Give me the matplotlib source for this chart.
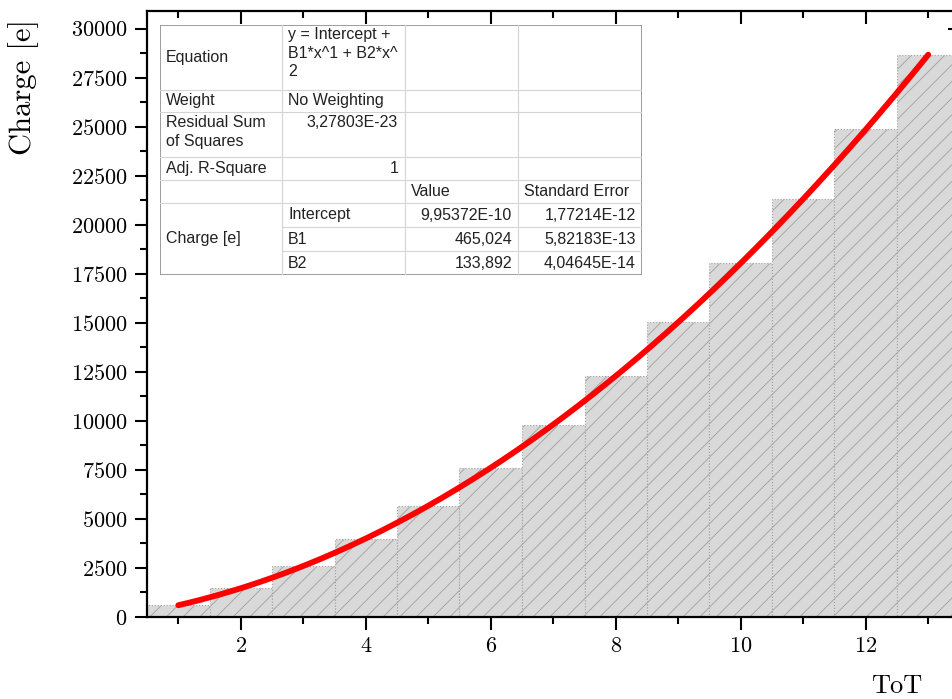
import matplotlib
matplotlib.use("Agg")
import matplotlib.pyplot as plt
import numpy as np

# ToT bins and the charge
tot = [1, 2, 3, 4, 5, 6, 7, 8, 9, 10, 11, 12, 13]
charge = [600, 1465, 2600, 4000, 5670, 7610, 9815, 12290, 15030, 18040, 21320, 24860, 28670]

# fit parameters as printed in the table
intercept = 9.95372e-10
b1 = 465.024
b2 = 133.892

# table contents
table_rows = [
    ["Equation", "y = Intercept +\nB1*x^1 + B2*x^\n2", "", ""],
    ["Weight", "No Weighting", "", ""],
    ["Residual Sum\nof Squares", "3,27803E-23", "", ""],
    ["Adj. R-Square", "1", "", ""],
    ["", "", "Value", "Standard Error"],
    ["Charge [e]", "Intercept", "9,95372E-10", "1,77214E-12"],
    ["", "B1", "465,024", "5,82183E-13"],
    ["", "B2", "133,892", "4,04645E-14"],
]

plt.rcParams["font.family"] = "cmr10"
plt.rcParams["axes.formatter.use_mathtext"] = True
plt.rcParams["hatch.linewidth"] = 0.6

fig = plt.figure(figsize=(9.53, 6.99), dpi=100)
W, H = 953, 699
ax_l, ax_r, ax_t, ax_b = 147, 959.5, 11, 617
ax = fig.add_axes([ax_l / W, 1 - ax_b / H, (ax_r - ax_l) / W, (ax_b - ax_t) / H])

# bars: gray fill, diagonal hatch, dotted edges
ax.bar(tot, charge, width=1.0, color="#d9d9d9", edgecolor="#a0a0a0",
       hatch="//", linestyle=":", linewidth=0.8, zorder=1)

# fit curve
xf = np.linspace(tot[0], tot[-1], 200)
yf = intercept + b1 * xf + b2 * xf ** 2
ax.plot(xf, yf, color="#ff0000", linewidth=4.2, solid_capstyle="round", zorder=3)

ax.set_xlim(0.5, 13.5)
ax.set_ylim(0, 30900)
ax.set_xticks(range(2, 14, 2))
ax.set_xticks(range(1, 14, 2), minor=True)
ax.set_yticks(range(0, 30001, 2500))
ax.set_yticks(range(1250, 30900, 2500), minor=True)

for s in ax.spines.values():
    s.set_linewidth(1.6)
ax.spines["top"].set_visible(False)
ax.spines["right"].set_visible(False)
ax.tick_params(which="major", direction="out", length=9, width=1.5, labelsize=16, pad=5)
ax.tick_params(which="minor", direction="out", length=5, width=1.5)

# mirrored inward ticks on top and right
top = ax.secondary_xaxis("top")
top.set_xticks(range(2, 14, 2))
top.set_xticks(range(1, 14, 2), minor=True)
top.tick_params(which="major", direction="in", length=9, width=1.5, labeltop=False)
top.tick_params(which="minor", direction="in", length=5, width=1.5)
top.spines["top"].set_linewidth(1.6)
right = ax.secondary_yaxis("right")
right.set_yticks(range(0, 30001, 2500))
right.set_yticks(range(1250, 30900, 2500), minor=True)
right.tick_params(which="major", direction="in", length=9, width=1.5, labelright=False)
right.tick_params(which="minor", direction="in", length=5, width=1.5)

ax.set_xlabel("ToT", fontsize=19)
ax.xaxis.set_label_coords(0.923, -0.095)
ax.set_ylabel("Charge [e]", fontsize=22)
ax.yaxis.set_label_coords(-0.133, 0.875)

# results table drawn in pixel coordinates
tl, tr, tt, tb = 160, 642, 25, 275
tax = fig.add_axes([tl / W, 1 - tb / H, (tr - tl) / W, (tb - tt) / H])
tax.set_xlim(tl, tr)
tax.set_ylim(tb, tt)
tax.axis("off")
tax.add_patch(plt.Rectangle((tl, tt), tr - tl, tb - tt, facecolor="white",
                            edgecolor="#8c8c8c", linewidth=1.2, zorder=2))
cols = [160, 282, 405, 518, 642]
rows = [25, 90, 112, 157, 180, 203, 227, 251, 275]
inner = "#d4d4d4"
for cx in cols[1:-1]:
    tax.plot([cx, cx], [tt, tb], color=inner, lw=0.8, zorder=3)
for i, ry in enumerate(rows[1:-1], start=1):
    x0 = cols[1] if i in (6, 7) else cols[0]
    tax.plot([x0, tr], [ry, ry], color=inner, lw=0.8, zorder=3)

tfont = dict(family="Liberation Sans", fontsize=11.5, color="#222222", zorder=4)
for i, row in enumerate(table_rows):
    y0, y1 = rows[i], rows[i + 1]
    for j, txt in enumerate(row):
        if not txt:
            continue
        c0, c1 = cols[j], cols[j + 1]
        if i == 0 and j == 1:
            tax.text(c0 + 6, y0 + 2, txt, ha="left", va="top", linespacing=1.3, **tfont)
        elif i == 2 and j == 0:
            tax.text(c0 + 6, y0 + 3, txt, ha="left", va="top", linespacing=1.3, **tfont)
        elif i == 2 and j == 1:
            tax.text(c1 - 7, y0 + 3, txt, ha="right", va="top", **tfont)
        elif i == 5 and j == 0:
            tax.text(c0 + 6, 239, txt, ha="left", va="center", **tfont)
        elif (i == 3 and j == 1) or (i >= 5 and j >= 2):
            tax.text(c1 - 6, (y0 + y1) / 2, txt, ha="right", va="center", **tfont)
        else:
            tax.text(c0 + 6, (y0 + y1) / 2, txt, ha="left", va="center", **tfont)

fig.savefig("out.png", dpi=100)
